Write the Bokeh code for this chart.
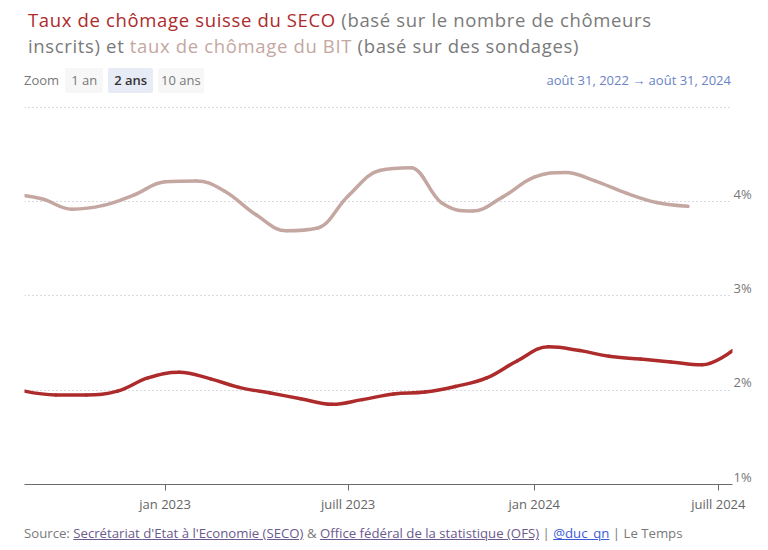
import pandas as pd
from bokeh.plotting import figure
from bokeh.models import (Range1d, DatetimeAxis, LinearAxis, FixedTicker, Grid, Div,
                          PrintfTickFormatter, ColumnDataSource)
from bokeh.layouts import column
from bokeh.embed import file_html
from bokeh.resources import INLINE

# ---------------- data ----------------
seco_dates = ["2022-08-15", "2022-09-15", "2022-10-15", "2022-11-15", "2022-12-15",
              "2023-01-15", "2023-02-15", "2023-03-15", "2023-04-15", "2023-05-15",
              "2023-06-15", "2023-07-15", "2023-08-15", "2023-09-15", "2023-10-15",
              "2023-11-15", "2023-12-15", "2024-01-15", "2024-02-15", "2024-03-15",
              "2024-04-15", "2024-05-15", "2024-06-15", "2024-07-15"]
seco_values = [1.99, 1.95, 1.95, 1.99, 2.13, 2.19, 2.12, 2.03, 1.97, 1.91, 1.85, 1.90,
               1.96, 1.98, 2.04, 2.13, 2.31, 2.46, 2.42, 2.36, 2.33, 2.30, 2.27, 2.42]

bit_dates = ["2022-08-01", "2022-09-01", "2022-10-01", "2022-11-01", "2022-12-01",
             "2023-01-01", "2023-02-01", "2023-03-01", "2023-04-01", "2023-05-01",
             "2023-06-01", "2023-07-01", "2023-08-01", "2023-09-01", "2023-10-01",
             "2023-11-01", "2023-12-01", "2024-01-01", "2024-02-01", "2024-03-01",
             "2024-04-01", "2024-05-01", "2024-06-01"]
bit_values = [4.08, 4.03, 3.92, 3.96, 4.07, 4.21, 4.22, 4.11, 3.86, 3.69, 3.72, 4.06,
              4.33, 4.36, 3.99, 3.90, 4.05, 4.26, 4.31, 4.22, 4.09, 3.99, 3.95]

x_tick_dates = ["2023-01-01", "2023-07-01", "2024-01-01", "2024-07-01"]
x_tick_labels = ["jan 2023", "juill 2023", "jan 2024", "juill 2024"]
y_ticks = [1, 2, 3, 4]
y_grid = [1, 2, 3, 4, 5]
x_start, x_end = "2022-08-15", "2024-07-15"
y_start, y_end = 1, 5.03

SECO_COLOR = "#ad2b2b"
BIT_COLOR = "#c5a7a2"
FONT = "Open Sans"
W = 768


def spline_segments(xs, ys, smoothing=1.5):
    """Cubic Bezier segments through the data points (spline series rendering)."""
    n = len(xs)
    lc = [(xs[i], ys[i]) for i in range(n)]
    rc = [(xs[i], ys[i]) for i in range(n)]
    den = smoothing + 1
    for i in range(1, n - 1):
        px, py = xs[i], ys[i]
        lx, ly = xs[i - 1], ys[i - 1]
        nx, ny = xs[i + 1], ys[i + 1]
        lcx = (smoothing * px + lx) / den
        lcy = (smoothing * py + ly) / den
        rcx = (smoothing * px + nx) / den
        rcy = (smoothing * py + ny) / den
        corr = 0.0
        if rcx != lcx:
            corr = (rcy - lcy) * (rcx - px) / (rcx - lcx) + py - rcy
        lcy += corr
        rcy += corr
        if lcy > ly and lcy > py:
            lcy = max(ly, py)
            rcy = 2 * py - lcy
        elif lcy < ly and lcy < py:
            lcy = min(ly, py)
            rcy = 2 * py - lcy
        if rcy > ny and rcy > py:
            rcy = max(ny, py)
            lcy = 2 * py - rcy
        elif rcy < ny and rcy < py:
            rcy = min(ny, py)
            lcy = 2 * py - rcy
        lc[i] = (lcx, lcy)
        rc[i] = (rcx, rcy)
    seg = dict(x0=[], y0=[], x1=[], y1=[], cx0=[], cy0=[], cx1=[], cy1=[])
    for i in range(1, n):
        seg["x0"].append(xs[i - 1]); seg["y0"].append(ys[i - 1])
        seg["x1"].append(xs[i]); seg["y1"].append(ys[i])
        seg["cx0"].append(rc[i - 1][0]); seg["cy0"].append(rc[i - 1][1])
        seg["cx1"].append(lc[i][0]); seg["cy1"].append(lc[i][1])
    return seg


def to_ms(dates):
    return [pd.Timestamp(d).value / 1e6 for d in dates]


# ---------------- figure ----------------
p = figure(width=W, height=415, output_backend="svg", toolbar_location=None,
           x_axis_type="datetime", x_axis_location=None, y_axis_location=None,
           x_range=Range1d(pd.Timestamp(x_start), pd.Timestamp(x_end)),
           y_range=Range1d(y_start, y_end),
           min_border_left=24, min_border_right=36, min_border_top=4, min_border_bottom=30)
p.outline_line_color = None
p.background_fill_color = "white"
p.border_fill_color = "white"
for g in list(p.xgrid) + list(p.ygrid):
    g.visible = False

p.add_layout(Grid(dimension=1, ticker=FixedTicker(ticks=y_grid),
                  grid_line_color="#b3b3c8", grid_line_dash="1 3", grid_line_width=1),
             "center")

bit_src = ColumnDataSource(spline_segments(to_ms(bit_dates), bit_values))
seco_src = ColumnDataSource(spline_segments(to_ms(seco_dates), seco_values))
p.bezier(x0="x0", y0="y0", x1="x1", y1="y1", cx0="cx0", cy0="cy0", cx1="cx1", cy1="cy1",
         source=bit_src, line_color=BIT_COLOR, line_width=3.5, line_cap="round")
p.bezier(x0="x0", y0="y0", x1="x1", y1="y1", cx0="cx0", cy0="cy0", cx1="cx1", cy1="cy1",
         source=seco_src, line_color=SECO_COLOR, line_width=3.5, line_cap="round")

# x axis (bottom)
tick_ms = to_ms(x_tick_dates)
xax = DatetimeAxis(ticker=FixedTicker(ticks=tick_ms),
                   major_label_overrides={t: l for t, l in zip(tick_ms, x_tick_labels)},
                   axis_line_color="#6a6a6a", axis_line_width=1.2,
                   major_tick_line_color="#6a6a6a", major_tick_out=6, major_tick_in=0,
                   minor_tick_line_color=None, major_label_standoff=4,
                   major_label_text_color="#666666", major_label_text_font=FONT,
                   major_label_text_font_size="13px")
p.add_layout(xax, "below")

# y axis labels (right), drawn slightly above their gridlines
px_per_unit = 381 / (y_end - y_start)
d = 8 / px_per_unit
p.extra_y_ranges = {"lab": Range1d(y_start - d, y_end - d)}
yax = LinearAxis(y_range_name="lab", ticker=FixedTicker(ticks=y_ticks),
                 formatter=PrintfTickFormatter(format="%d%%"),
                 axis_line_color=None, major_tick_line_color=None,
                 minor_tick_line_color=None, major_tick_out=0, major_tick_in=0,
                 major_label_standoff=1, major_label_text_color="#777777",
                 major_label_text_font=FONT, major_label_text_font_size="13px")
p.add_layout(yax, "right")

# ---------------- HTML parts ----------------
title = Div(width=W, height=60, margin=0, text=(
    f"<div style=\"font-family:'{FONT}';font-size:18.5px;line-height:25.5px;"
    "letter-spacing:0.65px;color:#7a7a7a;padding:7px 0 0 28px;white-space:nowrap\">"
    f"<span style='color:{SECO_COLOR};font-weight:500'>Taux de chômage suisse du SECO</span>"
    " (basé sur le nombre de chômeurs<br>inscrits) et "
    f"<span style='color:{BIT_COLOR};font-weight:500'>taux de chômage du BIT</span>"
    " (basé sur des sondages)</div>"))

btn = ("display:inline-block;height:25px;line-height:25px;padding:0 6px;"
       "border-radius:2px;margin-right:5px;")
zoom_row = Div(width=W, height=40, margin=0, text=(
    f"<div style=\"font-family:'{FONT}';width:{W}px;height:40px;box-sizing:border-box;"
    "padding:0 37px 0 24px;display:flex;align-items:center;justify-content:space-between\">"
    "<div style='font-size:13px;color:#777'>"
    "<span style='margin-right:6px'>Zoom</span>"
    f"<span style='{btn}background:#f7f7f7;color:#777'>1 an</span>"
    f"<span style='{btn}background:#e6ebf5;color:#333;font-weight:600'>2 ans</span>"
    f"<span style='{btn}background:#f7f7f7;color:#777;padding:0 3px'>10 ans</span>"
    "</div>"
    "<div style='font-size:13px;color:#6a84c4'>août 31, 2022 → août 31, 2024</div>"
    "</div>"))

footer = Div(width=W, height=30, margin=0, text=(
    f"<div style=\"font-family:'{FONT}';font-size:13.2px;color:#7a7a7a;line-height:20px;"
    "padding:8px 0 0 24px;white-space:nowrap\">Source: "
    "<span style='color:#6b5a8e;text-decoration:underline'>Secrétariat d'Etat à l'Economie (SECO)</span>"
    " &amp; "
    "<span style='color:#6b5a8e;text-decoration:underline'>Office fédéral de la statistique (OFS)</span>"
    " | <span style='color:#3b5bd6;text-decoration:underline'>@duc_qn</span> | Le Temps</div>"))

layout = column(title, zoom_row, p, footer, spacing=0)

open("out.html", "w").write(file_html(layout, INLINE))
